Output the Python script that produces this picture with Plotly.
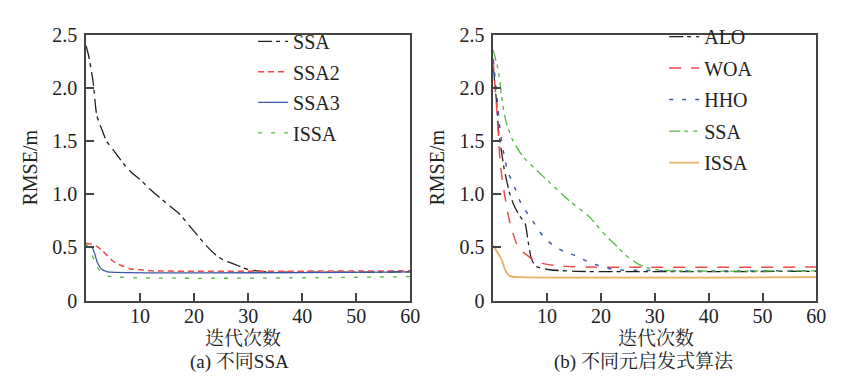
import plotly.graph_objects as go

# ---------------- data: panel (a) ----------------
a_ssa_x = [0, 0.5, 1.3, 2, 3, 3.8, 5, 6.9, 8.5, 10, 12, 13.6, 15.5, 17.2, 19.7, 22.2, 24, 25.5, 27.1, 29, 30.2, 31.5, 33.3, 60]
a_ssa_y = [2.4, 2.3, 2.06, 1.74, 1.6, 1.50, 1.42, 1.29, 1.2, 1.14, 1.04, 0.97, 0.89, 0.82, 0.67, 0.52, 0.43, 0.38, 0.35, 0.31, 0.29, 0.28, 0.27, 0.27]
a_ssa2_x = [0, 1, 2, 3, 4, 5, 6, 7, 8, 10, 12, 60]
a_ssa2_y = [0.54, 0.53, 0.51, 0.47, 0.42, 0.37, 0.34, 0.32, 0.30, 0.29, 0.28, 0.28]
a_ssa3_x = [0, 1.1, 1.6, 2, 2.5, 3, 3.5, 4, 60]
a_ssa3_y = [0.51, 0.50, 0.44, 0.37, 0.32, 0.29, 0.28, 0.27, 0.27]
a_issa_x = [0, 0.5, 1.1, 2, 2.6, 3.2, 4.1, 60]
a_issa_y = [0.53, 0.50, 0.43, 0.32, 0.28, 0.26, 0.23, 0.225]

# ---------------- data: panel (b) ----------------
b_alo_x = [0, 0.7, 1.0, 1.6, 2.0, 3.1, 4.0, 5.0, 5.9, 6.5, 7.1, 8.0, 10.5, 15.4, 60]
b_alo_y = [2.2, 1.82, 1.59, 1.38, 1.25, 1.0, 0.88, 0.79, 0.73, 0.55, 0.39, 0.32, 0.29, 0.275, 0.275]
b_woa_x = [0, 0.1, 0.7, 1.3, 1.6, 2.2, 3.1, 4.3, 5.0, 6.2, 7.5, 9.2, 11.4, 14.1, 18, 60]
b_woa_y = [2.28, 2.18, 1.77, 1.29, 1.17, 0.97, 0.73, 0.54, 0.48, 0.43, 0.38, 0.35, 0.33, 0.32, 0.315, 0.315]
b_hho_x = [0, 0.7, 1.3, 2.2, 2.8, 3.7, 5.3, 6.8, 9.2, 11.1, 13.2, 15.4, 17.8, 20.2, 22.7, 26.7, 31.6, 60]
b_hho_y = [2.27, 1.91, 1.59, 1.32, 1.20, 1.10, 0.90, 0.79, 0.61, 0.52, 0.46, 0.42, 0.36, 0.32, 0.29, 0.285, 0.28, 0.28]
b_ssa_x = [0, 0.97, 1.3, 1.7, 2.4, 3.7, 5.6, 8.0, 10.5, 14.1, 17.8, 20.9, 23.0, 24.5, 26.7, 28.5, 30.4, 33, 60]
b_ssa_y = [2.36, 2.16, 2.03, 1.87, 1.68, 1.50, 1.35, 1.23, 1.11, 0.94, 0.79, 0.61, 0.51, 0.43, 0.35, 0.31, 0.29, 0.28, 0.28]
b_issa_x = [0, 0.7, 1.6, 2.2, 3.1, 5.0, 60]
b_issa_y = [0.52, 0.46, 0.38, 0.29, 0.23, 0.22, 0.22]

x_tickvals = [10, 20, 30, 40, 50, 60]
y_tickvals = [0, 0.5, 1.0, 1.5, 2.0, 2.5]
y_ticktext = ["0", "0.5", "1.0", "1.5", "2.0", "2.5"]

FONT = "Liberation Serif, Noto Serif CJK SC, Noto Sans CJK SC, serif"
BLACK = "#1e1e1e"
RED = "#f04b4b"
BLUE = "#3b5ba8"
GREEN = "#55b843"
ORANGE = "#e8b064"

fig = go.Figure()

def add(x, y, name, color, dash, xa, ya, leg, width=1.3):
    fig.add_trace(go.Scatter(
        x=x, y=y, name=name, mode="lines", xaxis=xa, yaxis=ya,
        line=dict(color=color, dash=dash, width=width, shape="spline", smoothing=0.6),
        legend=leg, legendgroup=leg + name,
    ))

add(a_ssa_x, a_ssa_y, "SSA", BLACK, "14px,4px,4px,5px", "x", "y", "legend")
add(a_ssa2_x, a_ssa2_y, "SSA2", RED, "6px,4px", "x", "y", "legend", 1.5)
add(a_ssa3_x, a_ssa3_y, "SSA3", BLUE, "solid", "x", "y", "legend")
add(a_issa_x, a_issa_y, "ISSA", GREEN, "4px,9px", "x", "y", "legend")

add(b_alo_x, b_alo_y, "ALO", BLACK, "14px,4px,4px,5px", "x2", "y2", "legend2")
add(b_woa_x, b_woa_y, "WOA", RED, "12px,10px", "x2", "y2", "legend2", 1.5)
add(b_hho_x, b_hho_y, "HHO", BLUE, "4px,9px", "x2", "y2", "legend2", 1.5)
add(b_ssa_x, b_ssa_y, "SSA", GREEN, "11px,4px,4px,5px,4px,5px", "x2", "y2", "legend2")
add(b_issa_x, b_issa_y, "ISSA", ORANGE, "solid", "x2", "y2", "legend2", 1.8)

W, H = 850, 377
ytop, ybot = 17, 299

def xax(l, r):
    return dict(domain=[l / W, r / W], range=[0, 60], tickvals=x_tickvals,
                ticks="inside", ticklen=8, tickwidth=1.5, tickcolor="#444",
                showline=True, linecolor="#444", linewidth=1.5, mirror=True,
                showgrid=False, zeroline=False, ticklabelstandoff=-3,
                tickfont=dict(size=20, color="#222", family=FONT))

def yax(anchor):
    return dict(domain=[1 - ybot / H, 1 - ytop / H], range=[0, 2.5], tickvals=y_tickvals,
                ticktext=y_ticktext, anchor=anchor,
                ticks="inside", ticklen=8, tickwidth=1.5, tickcolor="#444",
                showline=True, linecolor="#444", linewidth=1.5, mirror=True,
                showgrid=False, zeroline=False, ticklabelstandoff=3,
                tickfont=dict(size=20, color="#222", family=FONT),
                title=dict(text="RMSE/m", font=dict(size=20, color="#222", family=FONT), standoff=9))

leg_common = dict(font=dict(size=20, color="#222", family=FONT), bgcolor="rgba(0,0,0,0)",
                  xanchor="left", yanchor="top", traceorder="grouped")

def note(text, xpix, ypix, size):
    return dict(text=text, x=xpix / W, y=1 - ypix / H, xref="paper", yref="paper",
                showarrow=False, xanchor="center", yanchor="middle",
                font=dict(size=size, family=FONT, color="#222"))

fig.update_layout(
    width=W, height=H,
    margin=dict(l=0, r=0, t=0, b=0),
    paper_bgcolor="white", plot_bgcolor="white",
    font=dict(family=FONT, color="#222"),
    xaxis=dict(**xax(79, 407), anchor="y"),
    yaxis=yax("x"),
    xaxis2=dict(**xax(491, 818), anchor="y2"),
    yaxis2=yax("x2"),
    legend=dict(x=248 / W, y=1 - 3 / H, tracegroupgap=1.5, **leg_common),
    legend2=dict(x=664 / W, y=1 + 2 / H, tracegroupgap=2.5, **leg_common),
    annotations=[
        note("迭代次数", 238, 339, 19),
        note("迭代次数", 656, 339, 19),
        note("(a) 不同SSA", 234, 364, 19),
        note("(b) 不同元启发式算法", 644, 364, 19),
    ],
)

fig.write_html("out.html")
